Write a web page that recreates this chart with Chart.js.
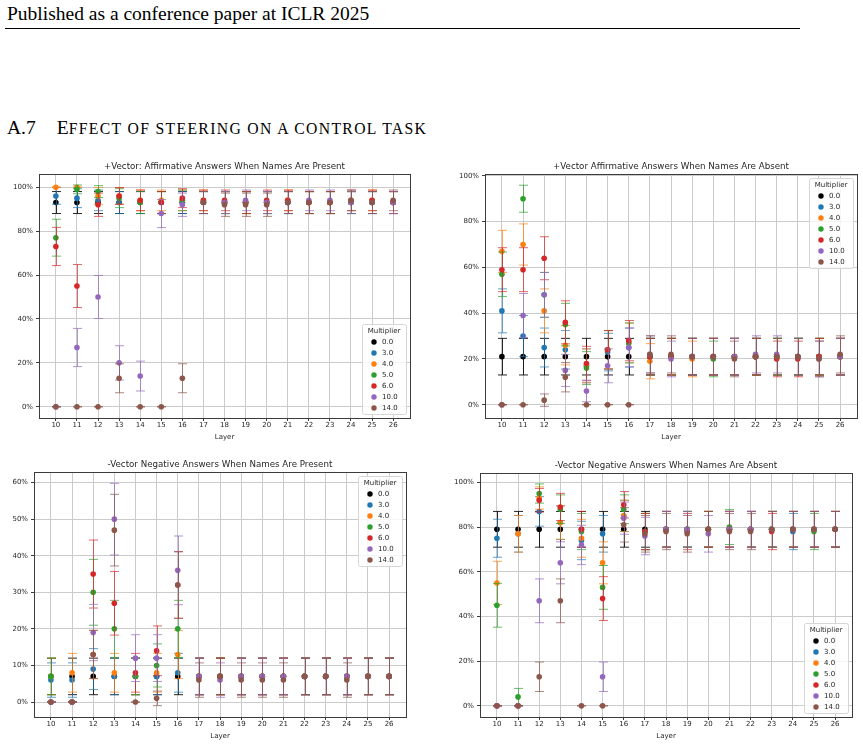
<!DOCTYPE html>
<html>
<head>
<meta charset="utf-8">
<script src="https://cdn.jsdelivr.net/npm/chart.js@4.4.1/dist/chart.umd.min.js"></script>
<style>
  html, body { margin: 0; padding: 0; background: #fff; }
  body { width: 863px; height: 746px; position: relative; overflow: hidden; }
  .serif { position: absolute; font-family: "Liberation Serif", "Times New Roman", serif; font-size: 19.5px; line-height: 1; color: #000; white-space: nowrap; }
  #hdr { left: 7px; top: 4px; }
  #rule { position: absolute; left: 5px; top: 28px; width: 795px; height: 1px; background: #000; }
  #sec { left: 7px; top: 118px; }
  #sec .cap { margin-left: 21px; }
  #sec .sc { font-size: 15.7px; letter-spacing: 1.35px; text-transform: uppercase; }
  canvas { position: absolute; }
</style>
</head>
<body>
<div class="serif" id="hdr">Published as a conference paper at ICLR 2025</div>
<div id="rule"></div>
<div class="serif" id="sec">A.7<span class="cap">E</span><span class="sc">ffect of steering on a control task</span></div>

<canvas id="plusPresent" width="430" height="295" style="left:0;top:150px"></canvas>
<canvas id="plusAbsent" width="433" height="295" style="left:430px;top:150px"></canvas>
<canvas id="minusPresent" width="430" height="301" style="left:0;top:445px"></canvas>
<canvas id="minusAbsent" width="433" height="301" style="left:430px;top:445px"></canvas>

<script>
const layers = [10, 11, 12, 13, 14, 15, 16, 17, 18, 19, 20, 21, 22, 23, 24, 25, 26];
const multipliers = ["0.0", "3.0", "4.0", "5.0", "6.0", "10.0", "14.0"];
const colors = ["#000000", "#1f77b4", "#ff7f0e", "#2ca02c", "#d62728", "#9467bd", "#8c564b"];
const ticksTo100 = [0, 20, 40, 60, 80, 100];
const ticksTo60 = [0, 10, 20, 30, 40, 50, 60];

// +Vector, names present (rows follow multipliers)
const plusPresentVals = [
  [93, 93, 93, 93, 93, 93, 93, 93, 93, 93, 93, 93, 93, 93, 93, 93, 93],
  [96, 95, 94, 93, 93, 93, 93, 93, 93, 93, 93, 93, 93, 93, 93, 93, 93],
  [100, 100, 96, 96, 94, 94, 94, 94, 93, 93, 93, 94, 93, 93, 93, 94, 93],
  [77, 99, 98, 95, 93, 93, 94, 93, 93, 93, 93, 93, 93, 93, 93, 93, 93],
  [73, 55, 92, 96, 94, 93, 95, 94, 94, 93, 94, 94, 93, 93, 94, 94, 93],
  [0, 27, 50, 20, 14, 88, 92, 93, 93, 94, 93, 93, 94, 94, 93, 93, 93],
  [0, 0, 0, 13, 0, 0, 13, 93, 92, 92, 92, 93, 93, 93, 94, 93, 94]
];
const plusPresentErrs = [
  [5, 5, 5, 5, 5, 5, 5, 5, 5, 5, 5, 5, 5, 5, 5, 5, 5],
  [3.8, 4.3, 4.7, 5, 5, 5, 5, 5, 5, 5, 5, 5, 5, 5, 5, 5, 5],
  [0, 0, 3.8, 3.8, 4.7, 4.7, 4.7, 4.7, 5, 5, 5, 4.7, 5, 5, 5, 4.7, 5],
  [8.4, 2, 2.7, 4.3, 5, 5, 4.7, 5, 5, 5, 5, 5, 5, 5, 5, 5, 5],
  [8.7, 9.8, 5.3, 3.8, 4.7, 5, 4.3, 4.7, 4.7, 5, 4.7, 4.7, 5, 5, 4.7, 4.7, 5],
  [0, 8.7, 9.8, 7.8, 6.8, 6.4, 5.3, 5, 5, 4.7, 5, 5, 4.7, 4.7, 5, 5, 5],
  [0, 0, 0, 6.6, 0, 0, 6.6, 5, 5.3, 5.3, 5.3, 5, 5, 5, 4.7, 5, 4.7]
];

// +Vector, names absent
const plusAbsentVals = [
  [21, 21, 21, 21, 21, 21, 21, 21, 21, 21, 21, 21, 21, 21, 21, 21, 21],
  [41, 30, 25, 24, 17, 23, 25, 21, 21, 21, 21, 21, 21, 21, 21, 21, 21],
  [67, 70, 41, 26, 17, 24, 27, 19, 21, 20, 21, 21, 21, 21, 21, 21, 21],
  [57, 90, 48, 35, 16, 24, 27, 21, 21, 21, 20, 21, 21, 21, 21, 21, 21],
  [59, 59, 64, 36, 18, 24, 28, 21, 21, 21, 21, 21, 21, 20, 20, 21, 21],
  [0, 39, 48, 15, 6, 17, 25, 22, 20, 21, 21, 21, 22, 22, 21, 20, 21],
  [0, 0, 2, 12, 0, 0, 0, 22, 22, 21, 21, 20, 21, 21, 21, 20, 22]
];
const plusAbsentErrs = [
  [8, 8, 8, 8, 8, 8, 8, 8, 8, 8, 8, 8, 8, 8, 8, 8, 8],
  [9.6, 9, 8.5, 8.4, 7.4, 8.2, 8.5, 8, 8, 8, 8, 8, 8, 8, 8, 8, 8],
  [9.2, 9, 9.6, 8.6, 7.4, 8.4, 8.7, 7.7, 8, 7.8, 8, 8, 8, 8, 8, 8, 8],
  [9.7, 5.9, 9.8, 9.3, 7.2, 8.4, 8.7, 8, 8, 8, 7.8, 8, 8, 8, 8, 8, 8],
  [9.6, 9.6, 9.4, 9.4, 7.5, 8.4, 8.8, 8, 8, 8, 8, 8, 8, 7.8, 7.8, 8, 8],
  [0, 9.6, 9.8, 7, 4.7, 7.4, 8.5, 8.1, 7.8, 8, 8, 8, 8.1, 8.1, 8, 7.8, 8],
  [0, 0, 2.7, 6.4, 0, 0, 0, 8.1, 8.1, 8, 8, 7.8, 8, 8, 8, 7.8, 8.1]
];

// -Vector, names present
const minusPresentVals = [
  [7, 7, 7, 7, 7, 7, 7, 7, 7, 7, 7, 7, 7, 7, 7, 7, 7],
  [6, 6, 9, 7, 7, 7, 8, 7, 7, 7, 7, 7, 7, 7, 7, 7, 7],
  [7, 8, 13, 8, 7, 8, 13, 7, 7, 7, 7, 7, 7, 7, 7, 7, 7],
  [7, 0, 30, 20, 7, 10, 20, 7, 7, 7, 7, 7, 7, 7, 7, 7, 7],
  [0, 0, 35, 27, 8, 14, 32, 7, 7, 7, 7, 7, 7, 7, 7, 7, 7],
  [0, 0, 19, 50, 12, 12, 36, 7, 6, 7, 7, 7, 7, 7, 7, 7, 7],
  [0, 0, 13, 47, 0, 1, 32, 6, 7, 6, 6, 6, 7, 7, 6, 7, 7]
];
const minusPresentErrs = [
  [5, 5, 5, 5, 5, 5, 5, 5, 5, 5, 5, 5, 5, 5, 5, 5, 5],
  [4.7, 4.7, 5.6, 5, 5, 5, 5.3, 5, 5, 5, 5, 5, 5, 5, 5, 5, 5],
  [5, 5.3, 6.6, 5.3, 5, 5.3, 6.6, 5, 5, 5, 5, 5, 5, 5, 5, 5, 5],
  [5, 0, 9, 7.8, 5, 5.9, 7.8, 5, 5, 5, 5, 5, 5, 5, 5, 5, 5],
  [0, 0, 9.3, 8.7, 5.3, 6.8, 9.1, 5, 5, 5, 5, 5, 5, 5, 5, 5, 5],
  [0, 0, 7.7, 9.8, 6.4, 6.4, 9.4, 5, 4.7, 5, 5, 5, 5, 5, 5, 5, 5],
  [0, 0, 6.6, 9.8, 0, 2, 9.1, 4.7, 5, 4.7, 4.7, 4.7, 5, 5, 4.7, 5, 5]
];

// -Vector, names absent
const minusAbsentVals = [
  [79, 79, 79, 79, 79, 79, 79, 79, 79, 79, 79, 79, 79, 79, 79, 79, 79],
  [75, 77, 87, 82, 74, 77, 85, 78, 79, 79, 79, 79, 79, 79, 78, 79, 79],
  [55, 77, 93, 82, 75, 64, 85, 78, 79, 79, 79, 79, 79, 79, 79, 79, 79],
  [45, 4, 95, 88, 78, 53, 88, 78, 79, 79, 79, 80, 79, 79, 79, 78, 79],
  [0, 0, 92, 89, 79, 48, 90, 78, 79, 78, 79, 79, 79, 78, 79, 79, 79],
  [0, 0, 47, 64, 72, 13, 84, 76, 79, 79, 77, 79, 79, 79, 79, 79, 79],
  [0, 0, 13, 47, 0, 0, 81, 77, 78, 77, 79, 78, 78, 79, 79, 79, 79]
];
const minusAbsentErrs = [
  [8, 8, 8, 8, 8, 8, 8, 8, 8, 8, 8, 8, 8, 8, 8, 8, 8],
  [8.5, 8.2, 6.6, 7.5, 8.6, 8.2, 7, 8.1, 8, 8, 8, 8, 8, 8, 8.1, 8, 8],
  [9.7, 8.2, 5, 7.5, 8.5, 9.4, 7, 8.1, 8, 8, 8, 8, 8, 8, 8, 8, 8],
  [9.8, 3.8, 4.3, 6.4, 8.1, 9.8, 6.4, 8.1, 8, 8, 8, 7.8, 8, 8, 8, 8.1, 8],
  [0, 0, 5.3, 6.1, 8, 9.8, 5.9, 8.1, 8, 8.1, 8, 8, 8, 8.1, 8, 8, 8],
  [0, 0, 9.8, 9.4, 8.8, 6.6, 7.2, 8.4, 8, 8, 8.2, 8, 8, 8, 8, 8, 8],
  [0, 0, 6.6, 9.8, 0, 0, 7.7, 8.2, 8.1, 8.2, 8, 8.1, 8.1, 8, 8, 8, 8]
];

const FONT = "DejaVu Sans";
const TEXT = "#262626";
const GRID = "#cbcbcb";

function withAlpha(hex, a) {
  const n = parseInt(hex.slice(1), 16);
  return `rgba(${n >> 16}, ${(n >> 8) & 255}, ${n & 255}, ${a})`;
}

// error bars go under each series' markers, like matplotlib's errorbar()
const mplBits = {
  id: "mplBits",
  beforeDatasetDraw(chart, args) {
    const ds = chart.data.datasets[args.index];
    const { ctx, scales: { x, y } } = chart;
    ctx.save();
    ctx.strokeStyle = ds.errColor;
    ctx.lineWidth = 1;
    ds.data.forEach((p, j) => {
      const e = ds.errs[j];
      const px = Math.round(x.getPixelForValue(p.x)) + 0.5;
      const hi = y.getPixelForValue(p.y + e);
      const lo = y.getPixelForValue(p.y - e);
      ctx.beginPath();
      ctx.moveTo(px, hi); ctx.lineTo(px, lo);
      ctx.moveTo(px - 4.5, hi); ctx.lineTo(px + 4.5, hi);
      ctx.moveTo(px - 4.5, lo); ctx.lineTo(px + 4.5, lo);
      ctx.stroke();
    });
    ctx.restore();
  },
  afterDraw(chart, args, opts) {
    const { ctx, chartArea: a } = chart;
    ctx.save();
    // spines
    ctx.strokeStyle = "#3c3c3c";
    ctx.lineWidth = 1;
    ctx.strokeRect(Math.round(a.left) + 0.5, Math.round(a.top) + 0.5,
      Math.round(a.right - a.left), Math.round(a.bottom - a.top));

    // title
    ctx.fillStyle = TEXT;
    ctx.font = `8.7px "${FONT}"`;
    ctx.textAlign = "center";
    ctx.textBaseline = "middle";
    ctx.fillText(opts.title, (a.left + a.right) / 2, a.top - 7.5);

    // legend
    const w = 44, h = 90, inset = 4;
    const lx = a.right - inset - w;
    const ly = opts.legendAt === "upper" ? a.top + inset : a.bottom - inset - h;
    ctx.beginPath();
    ctx.roundRect(lx + 0.5, ly + 0.5, w, h, 2);
    ctx.fillStyle = "rgba(255,255,255,0.8)";
    ctx.fill();
    ctx.strokeStyle = "#d6d6d6";
    ctx.stroke();
    ctx.fillStyle = TEXT;
    ctx.font = `7px "${FONT}"`;
    ctx.fillText("Multiplier", lx + w / 2, ly + 7);
    ctx.textAlign = "left";
    multipliers.forEach((m, i) => {
      const cy = ly + 18 + 11 * i;
      ctx.beginPath();
      ctx.arc(lx + 12, cy, 2.7, 0, Math.PI * 2);
      ctx.fillStyle = colors[i];
      ctx.fill();
      ctx.fillStyle = TEXT;
      ctx.fillText(m, lx + 20, cy);
    });
    ctx.restore();
  }
};

function makeChart(id, title, vals, errs, yMin, yMax, yTicks, yAxisW, pad, legendAt) {
  const datasets = multipliers.map((m, i) => ({
    label: m,
    data: layers.map((l, j) => ({ x: l, y: vals[i][j] })),
    errs: errs[i],
    errColor: i === 0 ? "rgba(0,0,0,0.85)" : withAlpha(colors[i], 0.7),
    backgroundColor: colors[i],
    borderColor: colors[i],
    pointRadius: 2.8,
    pointHoverRadius: 2.8,
    pointBorderWidth: 0,
    showLine: false,
    order: multipliers.length - i
  }));

  new Chart(document.getElementById(id), {
    type: "scatter",
    data: { datasets },
    plugins: [mplBits],
    options: {
      responsive: false,
      animation: false,
      events: [],
      layout: { padding: { top: pad.top, right: pad.right, bottom: pad.bottom, left: 0 } },
      plugins: {
        legend: { display: false },
        tooltip: { enabled: false },
        mplBits: { title, legendAt }
      },
      scales: {
        x: {
          type: "linear",
          min: 9.2,
          max: 26.8,
          afterBuildTicks: s => { s.ticks = layers.map(v => ({ value: v })); },
          afterFit: s => { s.height = 27; },
          ticks: { font: { family: FONT, size: 7 }, color: TEXT, padding: 0, maxRotation: 0, autoSkip: false, callback: v => v },
          grid: { color: GRID, lineWidth: 1, tickColor: "#3c3c3c", tickLength: 3 },
          border: { display: false },
          title: { display: true, text: "Layer", font: { family: FONT, size: 7 }, color: TEXT, padding: { top: 0, bottom: 4 } }
        },
        y: {
          min: yMin,
          max: yMax,
          afterBuildTicks: s => { s.ticks = yTicks.map(v => ({ value: v })); },
          afterFit: s => { s.width = yAxisW; },
          ticks: { font: { family: FONT, size: 7 }, color: TEXT, padding: 3, callback: v => v + "%" },
          grid: { color: GRID, lineWidth: 1, tickColor: "#3c3c3c", tickLength: 3 },
          border: { display: false }
        }
      }
    }
  });
}

makeChart("plusPresent", "+Vector: Affirmative Answers When Names Are Present",
  plusPresentVals, plusPresentErrs, -5.1, 106, ticksTo100, 39, { top: 24, right: 20, bottom: 0 }, "lower");
makeChart("plusAbsent", "+Vector Affirmative Answers When Names Are Absent",
  plusAbsentVals, plusAbsentErrs, -5.8, 100.8, ticksTo100, 55, { top: 24, right: 6, bottom: 0 }, "upper");
makeChart("minusPresent", "-Vector Negative Answers When Names Are Present",
  minusPresentVals, minusPresentErrs, -4.1, 62.9, ticksTo60, 34, { top: 27, right: 24, bottom: 2 }, "upper");
makeChart("minusAbsent", "-Vector Negative Answers When Names Are Absent",
  minusAbsentVals, minusAbsentErrs, -5, 104.2, ticksTo100, 50, { top: 28, right: 11, bottom: 2 }, "lower");
</script>
</body>
</html>
